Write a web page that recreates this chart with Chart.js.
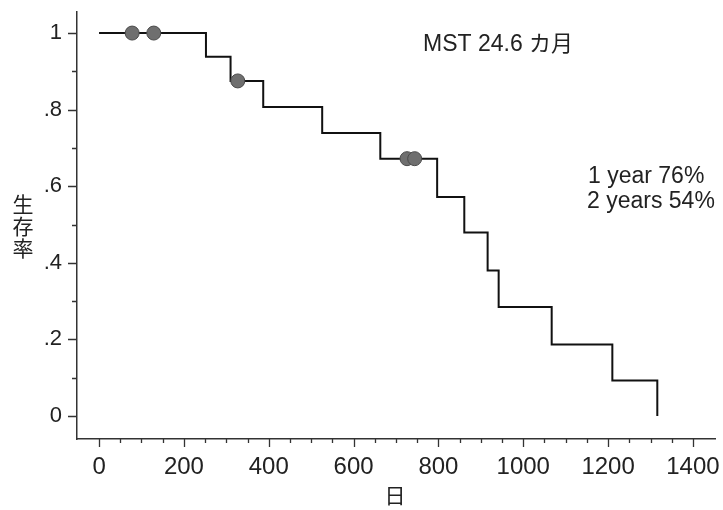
<!DOCTYPE html>
<html>
<head>
<meta charset="utf-8">
<script src="https://cdn.jsdelivr.net/npm/chart.js@4/dist/chart.umd.min.js"></script>
<style>
	html, body { margin: 0; padding: 0; background: #fff; }
	#wrap { width: 723px; height: 510px; }
</style>
</head>
<body>
<div id="wrap"><canvas id="km-chart" width="723" height="510"></canvas></div>
<script>
'use strict';

// survival curve (days, survival proportion)
const stepDays = [0, 252, 310, 387, 526, 663, 797, 861, 916, 942, 1067, 1210, 1316];
const stepSurv = [1, 0.938, 0.875, 0.807, 0.739, 0.672, 0.572, 0.479, 0.38, 0.285, 0.187, 0.093, 0];

// censored patients
const censorDays = [78, 129, 327, 726, 744];
const censorSurv = [1, 1, 0.875, 0.672, 0.672];

// tick labels
const xTicks = [0, 200, 400, 600, 800, 1000, 1200, 1400];
const yTicks = [0, 0.2, 0.4, 0.6, 0.8, 1];
const xMinorTicks = [50, 100, 150, 250, 300, 350, 450, 500, 550, 650, 700, 750, 850, 900, 950, 1050, 1100, 1150, 1250, 1300, 1350];
const yMinorTicks = [0.1, 0.3, 0.5, 0.7, 0.9];

const yTitle = ['生', '存', '率'];
const xTitle = '日';
const mstLabel = 'MST 24.6 ';
const mstUnit = 'カ月';
const rateNotes = ['1 year 76%', '2 years 54%'];

const FONT = '"Liberation Sans", Arial, sans-serif';
const CJK = '"Noto Sans CJK JP", sans-serif';
const INK = '#222';

function toPoints(xs, ys) {
	return xs.map((x, i) => ({ x: x, y: ys[i] }));
}

function formatY(v) {
	const r = Math.round(v * 10) / 10;
	if (r === 0) return '0';
	if (r === 1) return '1';
	return String(r).replace(/^0/, '');
}

// draws the outward tick marks, major and minor
const tickMarks = {
	id: 'tickMarks',
	afterDraw(chart) {
		const ctx = chart.ctx;
		const xs = chart.scales.x;
		const ys = chart.scales.y;
		const axisY = chart.chartArea.bottom;
		const axisX = chart.chartArea.left;
		ctx.save();
		ctx.strokeStyle = '#333';
		ctx.lineWidth = 1.3;
		ctx.beginPath();
		xTicks.forEach((v) => {
			const px = Math.round(xs.getPixelForValue(v)) + 0.5;
			ctx.moveTo(px, axisY);
			ctx.lineTo(px, axisY + 8);
		});
		xMinorTicks.forEach((v) => {
			const px = Math.round(xs.getPixelForValue(v)) + 0.5;
			ctx.moveTo(px, axisY);
			ctx.lineTo(px, axisY + 4);
		});
		yTicks.forEach((v) => {
			const py = Math.round(ys.getPixelForValue(v)) + 0.5;
			ctx.moveTo(axisX, py);
			ctx.lineTo(axisX - 9, py);
		});
		yMinorTicks.forEach((v) => {
			const py = Math.round(ys.getPixelForValue(v)) + 0.5;
			ctx.moveTo(axisX, py);
			ctx.lineTo(axisX - 5, py);
		});
		ctx.stroke();
		ctx.restore();
	},
};

// axis titles and the text notes inside the plot
const textNotes = {
	id: 'textNotes',
	afterDraw(chart) {
		const ctx = chart.ctx;
		ctx.save();
		ctx.fillStyle = INK;
		ctx.textBaseline = 'middle';
		ctx.font = '21px ' + CJK;
		ctx.textAlign = 'center';
		yTitle.forEach((ch, i) => {
			ctx.fillText(ch, 23, 204 + i * 22);
		});
		ctx.fillText(xTitle, 395, 495);

		// MST line on a shared baseline so the kana sits level with the digits
		ctx.textAlign = 'left';
		ctx.textBaseline = 'alphabetic';
		ctx.font = '23px ' + FONT;
		ctx.fillText(mstLabel, 423, 51);
		const w = ctx.measureText(mstLabel).width;
		ctx.font = '22px ' + CJK;
		ctx.fillText(mstUnit, 423 + w, 51);

		ctx.textBaseline = 'middle';
		ctx.font = '23px ' + FONT;
		ctx.fillText(rateNotes[0], 588, 177);
		ctx.fillText(rateNotes[1], 587, 202);
		ctx.restore();
	},
};

function makeChart() {
	const ctx = document.querySelector('#km-chart').getContext('2d');
	const configuration = {
		type: 'scatter',
		data: {
			datasets: [buildCurve(), buildCensors()],
		},
		options: buildOptions(),
		plugins: [tickMarks, textNotes],
	};
	return new Chart(ctx, configuration);
}

function buildCurve() {
	return {
		label: 'survival',
		data: toPoints(stepDays, stepSurv),
		showLine: true,
		stepped: 'before',
		borderColor: '#111',
		borderWidth: 2,
		pointRadius: 0,
		fill: false,
		order: 2,
	};
}

function buildCensors() {
	return {
		label: 'censored',
		data: toPoints(censorDays, censorSurv),
		showLine: false,
		pointRadius: 7,
		pointBackgroundColor: '#6f6f6f',
		pointBorderColor: '#4a4a4a',
		pointBorderWidth: 1,
		order: 1,
	};
}

function buildOptions() {
	return {
		responsive: false,
		animation: false,
		layout: {
			padding: { top: 12, right: 7, left: 0, bottom: 0 },
		},
		plugins: {
			legend: { display: false },
			tooltip: { enabled: false },
		},
		scales: {
			x: getX(),
			y: getY(),
		},
	};
}

function getX() {
	return {
		type: 'linear',
		min: -52,
		max: 1452,
		afterBuildTicks: (scale) => {
			scale.ticks = xTicks.map((v) => ({ value: v }));
		},
		afterFit: (scale) => {
			scale.height = 71;
			scale.paddingLeft = 0;
			scale.paddingRight = 0;
		},
		grid: { display: false, drawTicks: false },
		border: { display: true, color: '#333', width: 1.5 },
		ticks: {
			padding: 14,
			color: INK,
			maxRotation: 0,
			autoSkip: false,
			font: { family: FONT, size: 24 },
			callback: (v) => String(v),
		},
	};
}

function getY() {
	return {
		type: 'linear',
		min: -0.06,
		max: 1.055,
		afterBuildTicks: (scale) => {
			scale.ticks = yTicks.map((v) => ({ value: v }));
		},
		afterFit: (scale) => {
			scale.width = 77;
			scale.paddingTop = 0;
			scale.paddingBottom = 0;
		},
		grid: { display: false, drawTicks: false },
		border: { display: true, color: '#333', width: 1.5 },
		ticks: {
			padding: 15,
			color: INK,
			autoSkip: false,
			font: { family: FONT, size: 22 },
			callback: (v) => formatY(v),
		},
	};
}

makeChart();
</script>
</body>
</html>
